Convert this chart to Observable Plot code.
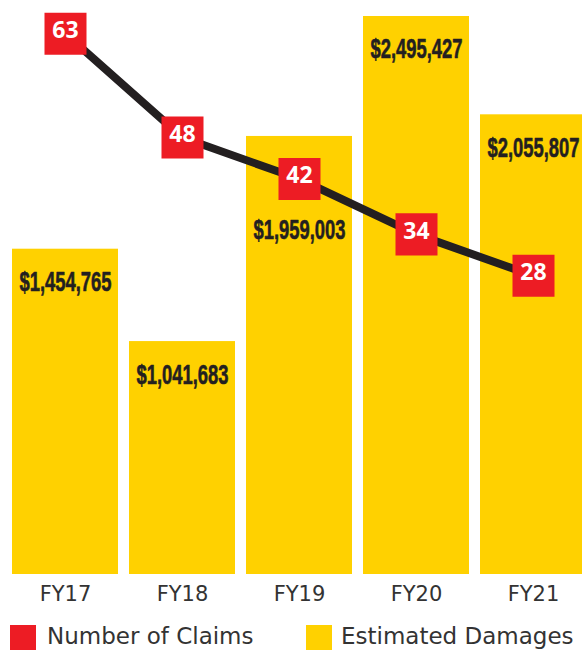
<!DOCTYPE html>
<html><head><meta charset="utf-8">
<script src="https://cdn.jsdelivr.net/npm/d3@7"></script>
<script src="https://cdn.jsdelivr.net/npm/@observablehq/plot@0.6"></script>
<style>
body{margin:0;background:#fff;}
#wrap{position:relative;width:582px;height:650px;overflow:hidden;background:#fff;}
#wrap svg{display:block;overflow:hidden;}
.sw{position:absolute;top:625px;width:26px;height:26px;}
.lt{position:absolute;top:623px;line-height:26px;font-family:"DejaVu Sans",sans-serif;font-size:23px;color:#333;white-space:nowrap;}
</style></head>
<body><div id="wrap"></div>
<script>
const years = ["FY17","FY18","FY19","FY20","FY21"];
const damages = [1454765, 1041683, 1959003, 2495427, 2055807];
const claims = [63, 48, 42, 34, 28];
const legendLabels = ["Number of Claims", "Estimated Damages"];

const data = years.map((y, i) => ({year: y, damages: damages[i], claims: claims[i]}));
const fmt = d3.format("$,");
// secondary (claims) axis mapped onto the damages scale
const claimY = c => 469600 + 30926 * c;

const RED = "#ed1c24", YEL = "#ffd100", INK = "#231f20";

const lowLabel = d => d.year === "FY19";
const labelStyle = {x: "year", y: "damages", text: d => fmt(d.damages), lineAnchor: "middle",
  fontFamily: "Liberation Sans", fontWeight: "bold", fontSize: 28, fill: INK, stroke: INK, strokeWidth: 0.6, className: "dlab"};

const chart = Plot.plot({
  width: 582, height: 614,
  marginTop: 0, marginBottom: 40, marginLeft: 0, marginRight: 0,
  x: {domain: years, range: [1, 597], padding: 0.094, axis: null},
  y: {domain: [0, 2567000], axis: null},
  style: {fontFamily: "DejaVu Sans, sans-serif", overflow: "hidden", background: "#fff"},
  marks: [
    Plot.barY(data, {x: "year", y: "damages", fill: YEL}),
    Plot.axisX({tickSize: 0, tickPadding: 12, fontSize: 21, fill: "#333", fontFamily: "DejaVu Sans", label: null}),
    Plot.text(data.filter(d => !lowLabel(d)), {...labelStyle, dy: 33}),
    Plot.text(data.filter(lowLabel), {...labelStyle, dy: 94}),
    Plot.line(data, {x: "year", y: d => claimY(d.claims), stroke: INK, strokeWidth: 8}),
    Plot.dot(data, {x: "year", y: d => claimY(d.claims), symbol: "square", r: 23.7, fill: RED, stroke: null}),
    Plot.text(data, {x: "year", y: d => claimY(d.claims), text: d => String(d.claims), fill: "white",
      fontSize: 23, fontWeight: 700, fontFamily: "Open Sans", lineAnchor: "middle", dy: -3})
  ]
});

d3.select(chart).selectAll(".dlab text").attr("textLength", 92).attr("lengthAdjust", "spacingAndGlyphs");

const wrap = document.getElementById("wrap");
wrap.appendChild(chart);
const legendItems = [
  {label: legendLabels[0], color: RED, sx: 10, tx: 47},
  {label: legendLabels[1], color: YEL, sx: 306, tx: 341}
];
for (const it of legendItems) {
  const s = document.createElement("div");
  s.className = "sw"; s.style.left = it.sx + "px"; s.style.background = it.color;
  wrap.appendChild(s);
  const t = document.createElement("div");
  t.className = "lt"; t.style.left = it.tx + "px"; t.textContent = it.label;
  wrap.appendChild(t);
}
</script>
</body></html>
